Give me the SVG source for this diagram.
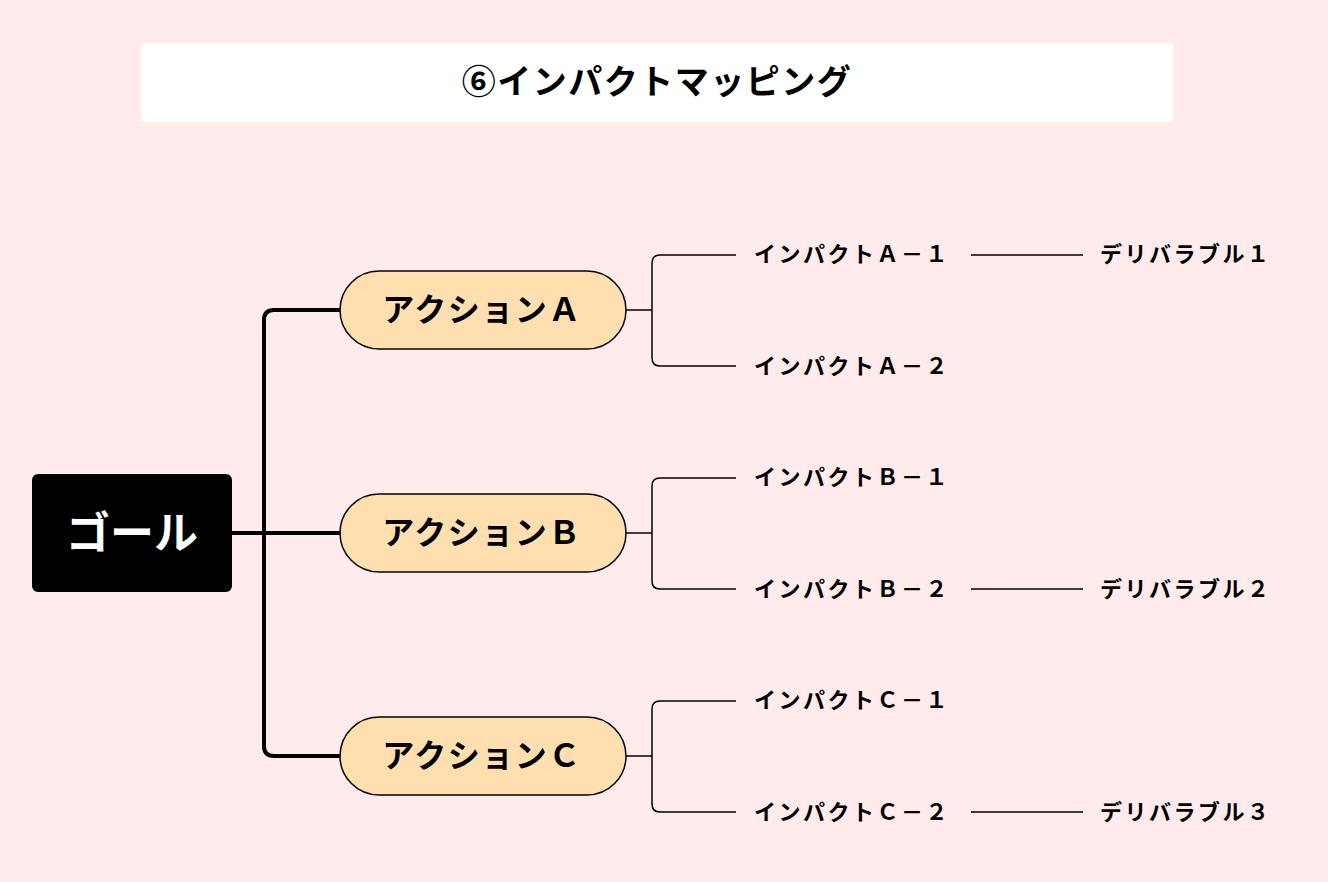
<svg xmlns="http://www.w3.org/2000/svg" width="1328" height="882" viewBox="0 0 1328 882">
<style>
text{font-family:"Noto Sans CJK JP","Noto Sans",sans-serif;font-weight:bold;fill:#000}
.act{fill:#FFDFB0;stroke:#000;stroke-width:1.5}
.thick{fill:none;stroke:#000;stroke-width:4;stroke-linejoin:round}
.thin{fill:none;stroke:#000;stroke-width:1.5}
.at{font-size:32px;text-anchor:middle;dominant-baseline:central;letter-spacing:1.5px}
.it{font-size:22px;dominant-baseline:central;letter-spacing:2.5px}
</style>
<rect width="1328" height="882" fill="#FFEAEC"/>
<g id="title"><rect x="141" y="43" width="1032" height="79" rx="4" fill="#fff"/>
<text x="657" y="79" font-size="34" text-anchor="middle" dominant-baseline="central" letter-spacing="1.5">⑥インパクトマッピング</text></g>
<g id="connectors">
<path class="thick" d="M232,533H340M340,310H274Q264,310 264,320V746Q264,756 274,756H340"/>
<path class="thin" d="M626,310H652M736,255H660Q652,255 652,263V358Q652,366 660,366H736"/>
<path class="thin" d="M626,533H652M736,478H660Q652,478 652,486V581Q652,589 660,589H736"/>
<path class="thin" d="M626,756H652M736,701H660Q652,701 652,709V804Q652,812 660,812H736"/>
<path class="thin" d="M971,255H1083M971,589H1083M971,812H1083"/>
</g>
<g id="goal"><rect x="32" y="474" width="200" height="118" rx="6" fill="#000"/>
<text x="132" y="530" font-size="44" text-anchor="middle" dominant-baseline="central" style="fill:#fff">ゴール</text></g>
<g id="actionA"><rect class="act" x="340" y="271" width="286" height="78" rx="39"/><text class="at" x="482" y="307">アクションＡ</text></g>
<g id="actionB"><rect class="act" x="340" y="494" width="286" height="78" rx="39"/><text class="at" x="482" y="530">アクションＢ</text></g>
<g id="actionC"><rect class="act" x="340" y="717" width="286" height="78" rx="39"/><text class="at" x="482" y="753">アクションＣ</text></g>
<g id="impA1"><text class="it" x="754" y="252">インパクトＡ－１</text></g>
<g id="impA2"><text class="it" x="754" y="364">インパクトＡ－２</text></g>
<g id="impB1"><text class="it" x="754" y="475">インパクトＢ－１</text></g>
<g id="impB2"><text class="it" x="754" y="587">インパクトＢ－２</text></g>
<g id="impC1"><text class="it" x="754" y="698">インパクトＣ－１</text></g>
<g id="impC2"><text class="it" x="754" y="810">インパクトＣ－２</text></g>
<g id="del1"><text class="it" x="1100" y="252">デリバラブル１</text></g>
<g id="del2"><text class="it" x="1100" y="587">デリバラブル２</text></g>
<g id="del3"><text class="it" x="1100" y="810">デリバラブル３</text></g>
</svg>
